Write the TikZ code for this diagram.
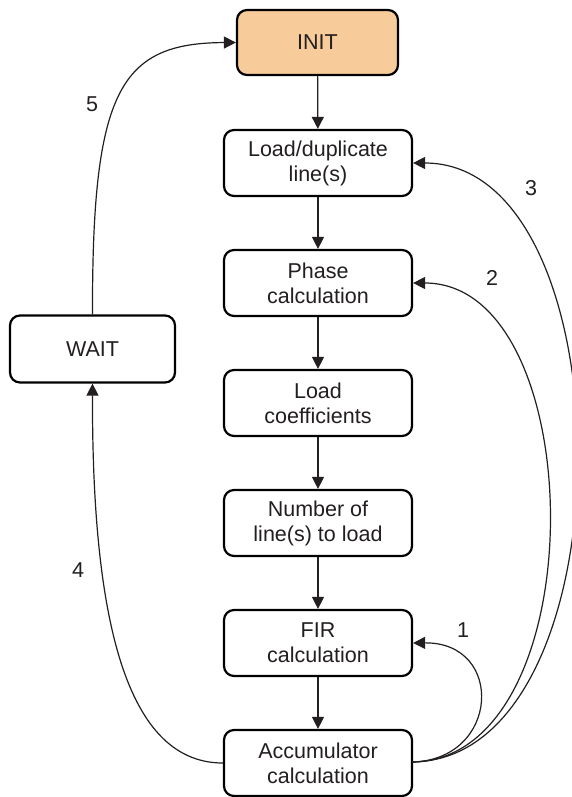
\documentclass[tikz,border=0pt]{standalone}
\usepackage{fontspec}
\setmainfont{Liberation Sans}
\usetikzlibrary{arrows.meta}
\definecolor{initfill}{HTML}{F7CB9A}
\definecolor{ink}{HTML}{231F20}
\tikzset{
  box/.style={draw=black, line width=2.2pt, rounded corners=10pt, fill=white,
    minimum width=188pt, minimum height=66pt, align=center, text=ink,
    font=\fontsize{21.5}{25}\selectfont, inner sep=0pt},
  conn/.style={draw=ink, line width=1.2pt, -{Triangle[length=12pt,width=12pt]}},
  lbl/.style={text=ink, font=\fontsize{21.5}{25}\selectfont, inner sep=0pt}
}
\begin{document}
\begin{tikzpicture}[x=1pt,y=-1pt]
\useasboundingbox (0,0) rectangle (571,797);
\node[box, fill=initfill, minimum width=161pt, minimum height=65pt] (init) at (317.5,42.5) {INIT};
\node[box] (load) at (318,163) {Load/duplicate\\line(s)};
\node[box] (phase) at (318,283) {Phase\\calculation};
\node[box] (coef) at (318,403) {Load\\coefficients};
\node[box] (num) at (318,523) {Number of\\line(s) to load};
\node[box] (fir) at (318,643) {FIR\\calculation};
\node[box] (acc) at (318,763) {Accumulator\\calculation};
\node[box, minimum width=165pt, minimum height=67pt] (wait) at (92.5,349) {WAIT};

\draw[conn] (init) -- (load);
\draw[conn] (load) -- (phase);
\draw[conn] (phase) -- (coef);
\draw[conn] (coef) -- (num);
\draw[conn] (num) -- (fir);
\draw[conn] (fir) -- (acc);

\coordinate (accE) at (412,762);
\draw[conn] (accE) .. controls (500,760) and (505,642) .. (fir.east);
\draw[conn] (accE) .. controls (597,760) and (592,283) .. (phase.east);
\draw[conn] (accE) .. controls (632,760) and (630,163) .. (load.east);
\draw[conn] (acc.west) .. controls (120,763) and (92,600) .. (wait.south);
\draw[conn] (wait.north) .. controls (92,90) and (120,43) .. (init.west);

\node[lbl] (l1) at (463,630) {1};
\node[lbl] (l2) at (492,278) {2};
\node[lbl] (l3) at (531,188) {3};
\node[lbl] (l4) at (78,570) {4};
\node[lbl] (l5) at (92,104) {5};
\end{tikzpicture}
\end{document}
